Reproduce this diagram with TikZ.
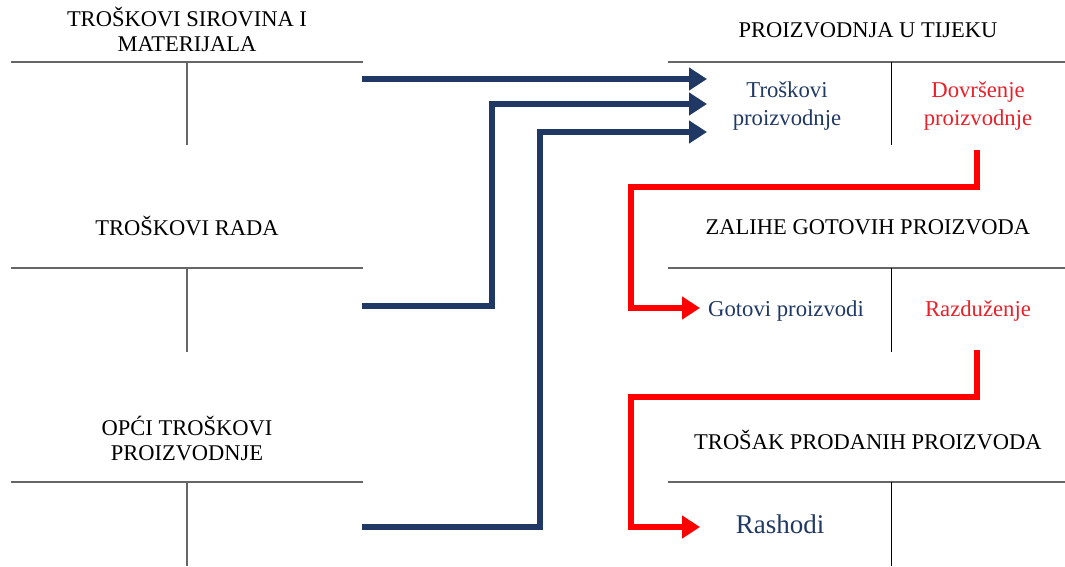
\documentclass[tikz,border=0pt]{standalone}
\usepackage{fontspec}
\setmainfont{Liberation Serif}
\usetikzlibrary{arrows.meta}
\definecolor{navy}{HTML}{1F3864}
\definecolor{redtxt}{HTML}{E8202A}
\definecolor{redline}{HTML}{FF0000}
\tikzset{
  hdr/.style={align=center,font=\fontsize{22.5}{25}\selectfont,text=black,inner sep=0pt},
  ent/.style={align=center,font=\fontsize{22.7}{28}\selectfont,inner sep=0pt},
  acct/.style={draw=gray!80!black,line width=1.3pt},
  acctv/.style={draw=black,line width=1pt},
  bluearrow/.style={draw=navy,line width=6.5pt,line join=miter,line cap=butt,-{Triangle[length=18pt,width=22pt]}},
  redarrow/.style={draw=redline,line width=6.5pt,line join=miter,line cap=butt,-{Triangle[length=18pt,width=22pt]}}
}
\begin{document}
\begin{tikzpicture}[x=1pt,y=-1pt]
\useasboundingbox (0,0) rectangle (1065,566);
% left accounts
\node[hdr] (h1) at (187,29) {TROŠKOVI SIROVINA I\\MATERIJALA};
\draw[acct] (11,62) -- (363,62);
\draw[acct] (187,62) -- (187,145);
\node[hdr] (h2) at (187,226) {TROŠKOVI RADA};
\draw[acct] (11,268) -- (363,268);
\draw[acct] (187,268) -- (187,352);
\node[hdr] (h3) at (187,438) {OPĆI TROŠKOVI\\PROIZVODNJE};
\draw[acct] (11,482) -- (363,482);
\draw[acct] (187,482) -- (187,566);
% right accounts
\node[hdr] (r1) at (868,30) {PROIZVODNJA U TIJEKU};
\draw[acct] (668,62) -- (1065,62);
\draw[acctv] (891,62) -- (891,145);
\node[ent,text=navy] (tp) at (787,106) {Troškovi\\proizvodnje};
\node[ent,text=redtxt] (dp) at (978,106) {Dovršenje\\proizvodnje};
\node[hdr] (r2) at (868,227) {ZALIHE GOTOVIH PROIZVODA};
\draw[acct] (668,268) -- (1065,268);
\draw[acctv] (891,268) -- (891,352);
\node[ent,text=navy] (gp) at (786,311) {Gotovi proizvodi};
\node[ent,text=redtxt] (rz) at (978,311) {Razduženje};
\node[hdr] (r3) at (868,440) {TROŠAK PRODANIH PROIZVODA};
\draw[acct] (668,482) -- (1065,482);
\draw[acctv] (891,482) -- (891,566);
\node[ent,text=navy,font=\fontsize{27}{30}\selectfont] (rs) at (780,524) {Rashodi};
% coordinates
\coordinate (s1) at (362,79);
\coordinate (t1) at (707,79);
\coordinate (s2) at (362,306);
\coordinate (b2) at (492,104);
\coordinate (t2) at (707,104);
\coordinate (s3) at (362,527);
\coordinate (b3) at (540,132);
\coordinate (t3) at (707,132);
\coordinate (d1) at (977,150);
\coordinate (e1) at (631,187);
\coordinate (g1) at (700,308);
\coordinate (d2) at (977,350);
\coordinate (e2) at (631,397);
\coordinate (g2) at (700,527);
% blue arrows
\draw[bluearrow] (s1) -- (t1);
\draw[bluearrow] (s2) -| (b2) -- (t2);
\draw[bluearrow] (s3) -| (b3) -- (t3);
% red arrows
\draw[redarrow] (d1) |- (e1) |- (g1);
\draw[redarrow] (d2) |- (e2) |- (g2);
\end{tikzpicture}
\end{document}
